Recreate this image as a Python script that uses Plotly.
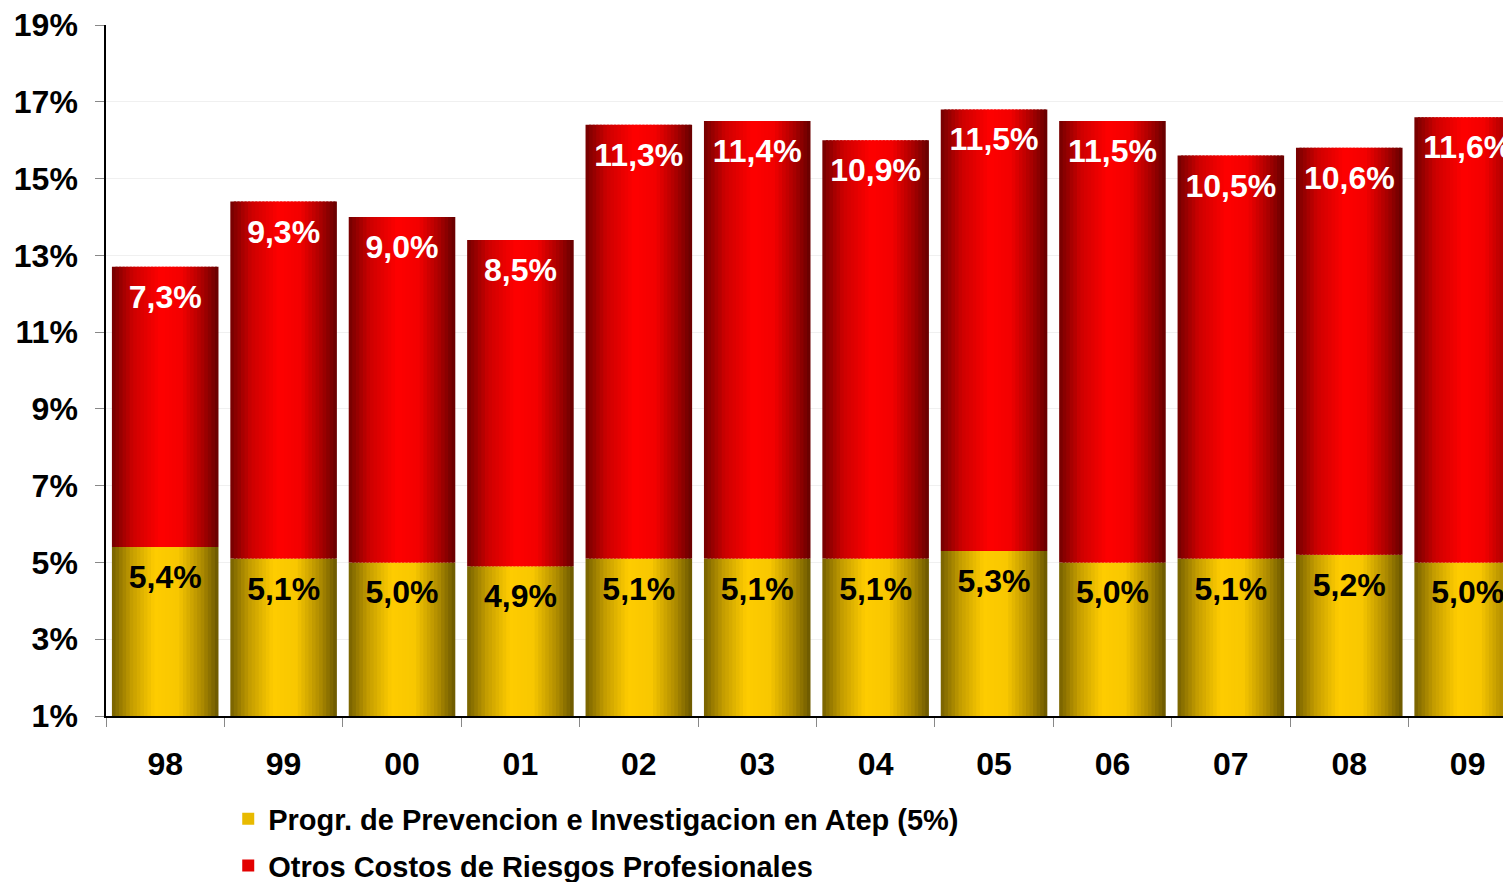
import plotly.graph_objects as go

# ---- data ----
categories = ['98', '99', '00', '01', '02', '03', '04', '05', '06', '07', '08', '09']
prevencion = [5.4, 5.1, 5.0, 4.9, 5.1, 5.1, 5.1, 5.3, 5.0, 5.1, 5.2, 5.0]
otros = [7.3, 9.3, 9.0, 8.5, 11.3, 11.4, 10.9, 11.5, 11.5, 10.5, 10.6, 11.6]
series_names = ['Progr. de Prevencion e Investigacion en Atep (5%)',
                'Otros Costos de Riesgos Profesionales']
y_tickvals = [1, 3, 5, 7, 9, 11, 13, 15, 17, 19]

# ---- styles ----
FONT = 'Liberation Sans, Arial, sans-serif'
GOLD_STOPS = [(0.0, (118, 96, 0)), (0.18, (195, 156, 0)), (0.40, (255, 204, 0)),
              (0.62, (248, 199, 0)), (0.84, (175, 140, 0)), (1.0, (105, 86, 0))]
RED_STOPS = [(0.0, (115, 0, 0)), (0.2, (205, 0, 0)), (0.46, (255, 0, 0)),
             (0.66, (242, 0, 0)), (0.86, (165, 0, 0)), (1.0, (100, 0, 0))]
BAR_W = 0.9
K = 30


def interp(stops, t):
    for (t0, c0), (t1, c1) in zip(stops[:-1], stops[1:]):
        if t0 <= t <= t1:
            f = (t - t0) / (t1 - t0)
            c = [round(a + (b - a) * f) for a, b in zip(c0, c1)]
            return f'rgb({c[0]},{c[1]},{c[2]})'
    c = stops[-1][1]
    return f'rgb({c[0]},{c[1]},{c[2]})'


def fmt(v):
    return f'{v:.1f}'.replace('.', ',') + '%'


tops_gold = prevencion
tops_red = [a + b for a, b in zip(prevencion, otros)]

fig = go.Figure()

layers = [
    (prevencion, [0] * len(prevencion), GOLD_STOPS, series_names[0], 'g'),
    (otros, prevencion, RED_STOPS, series_names[1], 'r'),
]
legend_slice = int(K * 0.3)
for vals, bases, stops, name, grp in layers:
    for k in range(K):
        t = (k + 0.5) / K
        w = BAR_W / K if k == K - 1 else BAR_W / K * 1.6
        fig.add_trace(go.Bar(
            x=categories, y=vals, base=bases,
            width=w, offset=-BAR_W / 2 + k * BAR_W / K,
            marker=dict(color=interp(stops, t), line_width=0),
            name=name, legendgroup=grp,
            showlegend=(k == legend_slice),
            hoverinfo='skip',
        ))

fig.add_trace(go.Scatter(
    x=categories, y=[v - 0.86 for v in tops_gold], mode='text',
    text=[fmt(v) for v in prevencion],
    textfont=dict(family=FONT, size=32, color='black', weight='bold'),
    showlegend=False, hoverinfo='skip', cliponaxis=False,
))
fig.add_trace(go.Scatter(
    x=categories, y=[v - 0.86 for v in tops_red], mode='text',
    text=[fmt(v) for v in otros],
    textfont=dict(family=FONT, size=32, color='white', weight='bold'),
    showlegend=False, hoverinfo='skip', cliponaxis=False,
))

fig.update_layout(
    width=1503, height=874,
    barmode='overlay',
    plot_bgcolor='white', paper_bgcolor='white',
    margin=dict(l=98, r=0, t=17, b=166, autoexpand=False),
    font=dict(family=FONT, size=28, color='black', weight='bold'),
    xaxis=dict(
        type='category', range=[-0.5, 11.366], automargin=False,
        tickson='boundaries', ticks='outside', ticklen=9, tickcolor='#888888',
        showline=True, linecolor='black', linewidth=1.5,
        showgrid=False, ticklabelstandoff=19, ticklabeloverflow='allow',
        tickfont=dict(family=FONT, size=32, color='black', weight='bold'),
    ),
    yaxis=dict(
        range=[1, 19], tickvals=y_tickvals, ticktext=[f'{v}%' for v in y_tickvals],
        automargin=False,
        ticks='outside', ticklen=9, tickcolor='#888888',
        showline=True, linecolor='black', linewidth=1.5,
        showgrid=True, gridcolor='#f0f0f0', gridwidth=1, zeroline=False,
        ticklabelstandoff=11, ticklabeloverflow='allow',
        tickfont=dict(family=FONT, size=32, color='black', weight='bold'),
    ),
    legend=dict(
        x=0.087, xanchor='left', y=-0.112, yanchor='top',
        orientation='v', traceorder='grouped', tracegroupgap=6,
        font=dict(family=FONT, size=29, color='black', weight='bold'),
        bgcolor='rgba(0,0,0,0)',
    ),
)

fig.write_html('out.html')
